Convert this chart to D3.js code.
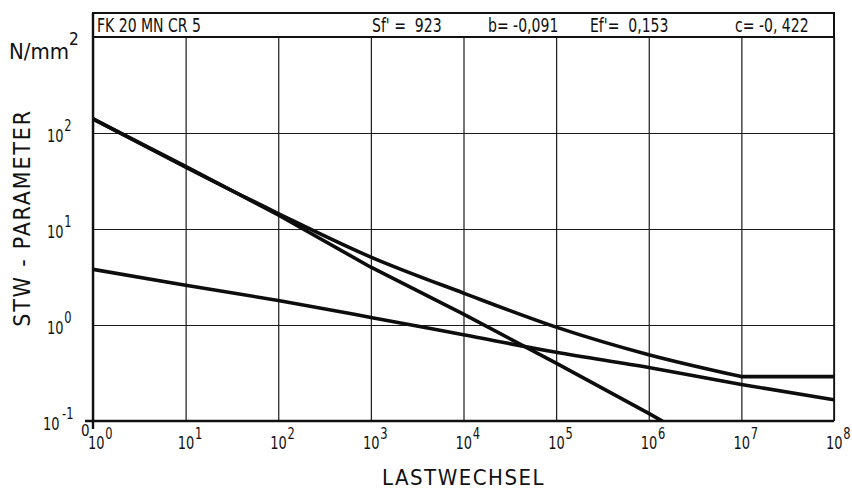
<!DOCTYPE html>
<html>
<head>
<meta charset="utf-8">
<script src="https://cdn.jsdelivr.net/npm/d3@7"></script>
<style>
  html, body { margin: 0; padding: 0; background: #fff; }
  svg { display: block; }
  .lbl { font-family: "DejaVu Sans Condensed", "Liberation Sans Narrow", "DejaVu Sans", sans-serif; fill: #111; }
</style>
</head>
<body>
<svg id="chart" width="852" height="496"></svg>
<script>
// Material parameters shown in the header strip
const material = "FK 20 MN CR 5";
const headerItems = ["Sf' =  923", "b= -0,091", "Ef'=  0,153", "c= -0, 422"];

// Load cycles (x) and curve values (y, N/mm²)
const steepN   = [1, 10, 100, 1000, 1e4, 1e5, 1e6, 1.4e6];
const steepV   = [140, 45, 14, 4.0, 1.3, 0.40, 0.12, 0.1];
const upperN   = [1, 10, 100, 1000, 1e4, 1e5, 1e6, 1e7, 1e8];
const upperV   = [140, 44, 14.5, 5.1, 2.15, 0.95, 0.49, 0.29, 0.29];
const lowerN   = [1, 10, 100, 1000, 1e4, 1e5, 1e6, 1e7, 1e8];
const lowerV   = [3.8, 2.6, 1.8, 1.2, 0.79, 0.52, 0.36, 0.24, 0.166];
// The upper curve bends smoothly down to 1e7 cycles, then runs flat
const upperKnee = 1e7;

// Axis tick exponents
const xExponents = [0, 1, 2, 3, 4, 5, 6, 7, 8];
const yExponents = [-1, 0, 1, 2];

const svg = d3.select("#chart");
const L = 93, R = 834, T = 37, B = 421, headTop = 13;

const x = d3.scaleLog().domain([1, 1e8]).range([L, R]);
const y = d3.scaleLog().domain([0.1, 1000]).range([B, T]);

// Vertical grid lines
const gx = svg.append("g")
  .attr("transform", `translate(0,${B})`)
  .call(d3.axisBottom(x).tickValues(xExponents.map(e => Math.pow(10, e)))
    .tickSize(-(B - T)).tickFormat(""));
gx.select(".domain").remove();
gx.selectAll(".tick line").attr("stroke", "#1a1a1a").attr("stroke-width", 1.2);

// Horizontal grid lines
const gy = svg.append("g")
  .attr("transform", `translate(${L},0)`)
  .call(d3.axisLeft(y).tickValues(yExponents.slice(1).map(e => Math.pow(10, e)))
    .tickSize(-(R - L)).tickFormat(""));
gy.select(".domain").remove();
gy.selectAll(".tick line").attr("stroke", "#1a1a1a").attr("stroke-width", 1.2);

// Frame: header strip and plot box
svg.append("rect").attr("x", L).attr("y", headTop).attr("width", R - L).attr("height", T - headTop)
  .attr("fill", "none").attr("stroke", "#111").attr("stroke-width", 2);
svg.append("line").attr("x1", R).attr("x2", R).attr("y1", T).attr("y2", B)
  .attr("stroke", "#111").attr("stroke-width", 1.6);
// Left and bottom axes, crossing slightly at the origin
svg.append("line").attr("x1", L).attr("x2", L).attr("y1", headTop).attr("y2", B + 8)
  .attr("stroke", "#111").attr("stroke-width", 2.4);
svg.append("line").attr("x1", L - 8).attr("x2", R).attr("y1", B).attr("y2", B)
  .attr("stroke", "#111").attr("stroke-width", 2.4);

// Curves, clipped to the plot area
svg.append("clipPath").attr("id", "plotClip")
  .append("rect").attr("x", L).attr("y", T).attr("width", R - L).attr("height", B - T);
const smooth = d3.line().x(d => x(d[0])).y(d => y(d[1])).curve(d3.curveMonotoneX);
const straight = d3.line().x(d => x(d[0])).y(d => y(d[1]));

const upper = d3.zip(upperN, upperV);
const segments = [
  { pts: d3.zip(steepN, steepV), gen: straight },
  { pts: upper.filter(d => d[0] <= upperKnee), gen: smooth },
  { pts: upper.filter(d => d[0] >= upperKnee), gen: straight },
  { pts: d3.zip(lowerN, lowerV), gen: smooth }
];
svg.append("g").attr("clip-path", "url(#plotClip)")
  .selectAll("path").data(segments).join("path")
  .attr("d", s => s.gen(s.pts)).attr("fill", "none").attr("stroke", "#0d0d0d")
  .attr("stroke-width", 3.6).attr("stroke-linejoin", "round").attr("stroke-linecap", "round");

// Header text, tall and narrow lettering
function headerText(str, px) {
  svg.append("text").attr("class", "lbl")
    .attr("transform", `translate(${px},32) scale(0.78,1)`)
    .attr("font-size", 20).attr("xml:space", "preserve")
    .style("white-space", "pre").text(str);
}
headerText(material, L + 4);
const headerX = [372, 488, 590, 735];
headerItems.forEach((s, i) => headerText(s, headerX[i]));

// X tick labels (10 with exponent)
svg.selectAll(".xt").data(xExponents).join("text")
  .attr("class", "lbl xt")
  .attr("transform", d => `translate(${x(Math.pow(10, d)) - (d === 0 ? 5 : 8)},449) scale(0.85,1)`)
  .attr("font-size", 17)
  .each(function (d) {
    const t = d3.select(this);
    t.append("tspan").text("10");
    t.append("tspan").attr("dy", -10).attr("dx", 1).attr("font-size", 15).text(d);
  });
svg.append("text").attr("class", "lbl").attr("x", 81).attr("y", 436)
  .attr("font-size", 15).text("0");

// Y tick labels
svg.selectAll(".yt").data(yExponents).join("text")
  .attr("class", "lbl yt")
  .attr("transform", d => `translate(${d === -1 ? 43 : 47},${y(Math.pow(10, d)) + 9}) scale(0.85,1)`)
  .attr("font-size", 17)
  .each(function (d) {
    const t = d3.select(this);
    t.append("tspan").text("10");
    t.append("tspan").attr("dy", -11).attr("font-size", 15)
      .attr("dx", d === -1 ? 3 : 1).text(d);
  });

// Axis titles
const unit = svg.append("text").attr("class", "lbl").attr("x", 9).attr("y", 59).attr("font-size", 22);
unit.append("tspan").text("N/mm");
unit.append("tspan").attr("dy", -14).attr("font-size", 17).text("2");

svg.append("text").attr("class", "lbl")
  .attr("transform", `translate(30,218) rotate(-90)`)
  .attr("text-anchor", "middle").attr("font-size", 23).attr("letter-spacing", 1.8)
  .text("STW - PARAMETER");

svg.append("text").attr("class", "lbl")
  .attr("x", (L + R) / 2).attr("y", 485).attr("text-anchor", "middle")
  .attr("font-size", 22).attr("letter-spacing", 1.5)
  .text("LASTWECHSEL");
</script>
</body>
</html>
